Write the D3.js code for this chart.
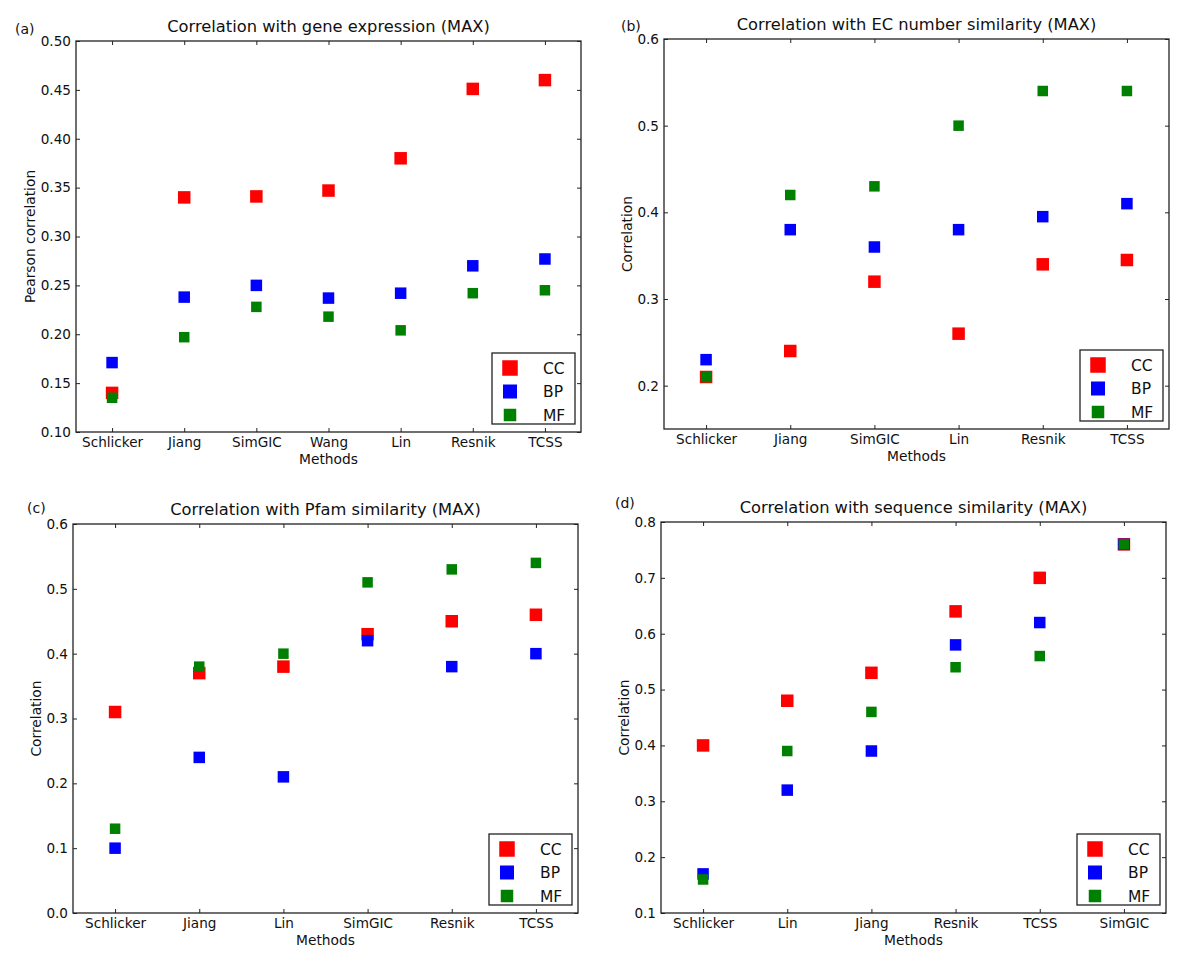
<!DOCTYPE html>
<html>
<head>
<meta charset="utf-8">
<script src="https://cdn.jsdelivr.net/npm/d3@7"></script>
<style>
  html, body { margin: 0; padding: 0; background: #fff; }
  svg { display: block; font-family: "DejaVu Sans", sans-serif; }
</style>
</head>
<body>
<svg id="chart" width="1200" height="959"></svg>
<script>
// ---------------- DATA ----------------
const seriesNames = ["CC", "BP", "MF"];

// (a) Correlation with gene expression (MAX)
const catsA = ["Schlicker", "Jiang", "SimGIC", "Wang", "Lin", "Resnik", "TCSS"];
const ccA = [0.140, 0.340, 0.341, 0.347, 0.380, 0.451, 0.460];
const bpA = [0.171, 0.238, 0.250, 0.237, 0.242, 0.270, 0.277];
const mfA = [0.135, 0.197, 0.228, 0.218, 0.204, 0.242, 0.245];
const ticksA = [0.10, 0.15, 0.20, 0.25, 0.30, 0.35, 0.40, 0.45, 0.50];

// (b) Correlation with EC number similarity (MAX)
const catsB = ["Schlicker", "Jiang", "SimGIC", "Lin", "Resnik", "TCSS"];
const ccB = [0.21, 0.24, 0.32, 0.26, 0.34, 0.345];
const bpB = [0.23, 0.38, 0.36, 0.38, 0.395, 0.41];
const mfB = [0.21, 0.42, 0.43, 0.50, 0.54, 0.54];
const ticksB = [0.2, 0.3, 0.4, 0.5, 0.6];

// (c) Correlation with Pfam similarity (MAX)
const catsC = ["Schlicker", "Jiang", "Lin", "SimGIC", "Resnik", "TCSS"];
const ccC = [0.31, 0.37, 0.38, 0.43, 0.45, 0.46];
const bpC = [0.10, 0.24, 0.21, 0.42, 0.38, 0.40];
const mfC = [0.13, 0.38, 0.40, 0.51, 0.53, 0.54];
const ticksC = [0.0, 0.1, 0.2, 0.3, 0.4, 0.5, 0.6];

// (d) Correlation with sequence similarity (MAX)
const catsD = ["Schlicker", "Lin", "Jiang", "Resnik", "TCSS", "SimGIC"];
const ccD = [0.40, 0.48, 0.53, 0.64, 0.70, 0.76];
const bpD = [0.17, 0.32, 0.39, 0.58, 0.62, 0.76];
const mfD = [0.16, 0.39, 0.46, 0.54, 0.56, 0.76];
const ticksD = [0.1, 0.2, 0.3, 0.4, 0.5, 0.6, 0.7, 0.8];

// ---------------- LAYOUT / STYLE ----------------
const colors = { CC: "#ff0000", BP: "#0000ff", MF: "#008000" };
const markerSize = { CC: 12.5, BP: 11.5, MF: 10.5 };
const legendMarkerSize = { CC: 15.5, BP: 14, MF: 12.5 };

const panels = [
  { tag: "(a)", title: "Correlation with gene expression (MAX)", ylabel: "Pearson correlation",
    cats: catsA, values: [ccA, bpA, mfA], ticks: ticksA, domain: [0.10, 0.50], fmt: ".2f",
    left: 76, top: 41, width: 505, height: 391, tagX: 15, tagY: 34 },
  { tag: "(b)", title: "Correlation with EC number similarity (MAX)", ylabel: "Correlation",
    cats: catsB, values: [ccB, bpB, mfB], ticks: ticksB, domain: [0.15, 0.6], fmt: ".1f",
    left: 664, top: 39, width: 505, height: 390, tagX: 621, tagY: 31 },
  { tag: "(c)", title: "Correlation with Pfam similarity (MAX)", ylabel: "Correlation",
    cats: catsC, values: [ccC, bpC, mfC], ticks: ticksC, domain: [0.0, 0.6], fmt: ".1f",
    left: 73, top: 524, width: 505, height: 389, tagX: 27, tagY: 513 },
  { tag: "(d)", title: "Correlation with sequence similarity (MAX)", ylabel: "Correlation",
    cats: catsD, values: [ccD, bpD, mfD], ticks: ticksD, domain: [0.1, 0.8], fmt: ".1f",
    left: 661, top: 522, width: 505, height: 391, tagX: 615, tagY: 508 }
];

const svg = d3.select("#chart");
const tickLen = 4;

panels.forEach(p => {
  const g = svg.append("g").attr("transform", `translate(${p.left},${p.top})`);
  const x = d3.scalePoint().domain(p.cats).range([0, p.width]).padding(0.5);
  const y = d3.scaleLinear().domain(p.domain).range([p.height, 0]);
  const f = d3.format(p.fmt);

  // axes (inward ticks on all four sides)
  const xAxis = g.append("g").attr("transform", `translate(0,${p.height})`)
    .call(d3.axisBottom(x).tickSizeInner(-tickLen).tickSizeOuter(0).tickPadding(5));
  const xTop = g.append("g")
    .call(d3.axisTop(x).tickSizeInner(-tickLen).tickSizeOuter(0).tickFormat(""));
  const yAxis = g.append("g")
    .call(d3.axisLeft(y).tickValues(p.ticks).tickFormat(f).tickSizeInner(-tickLen).tickSizeOuter(0).tickPadding(5));
  const yRight = g.append("g").attr("transform", `translate(${p.width},0)`)
    .call(d3.axisRight(y).tickValues(p.ticks).tickFormat("").tickSizeInner(-tickLen).tickSizeOuter(0));

  [xAxis, xTop, yAxis, yRight].forEach(a => {
    a.select(".domain").remove();
    a.selectAll("line").attr("stroke", "#222").attr("stroke-width", 1);
    a.selectAll("text").attr("font-size", 13.6).attr("fill", "#111")
      .attr("font-family", "DejaVu Sans, sans-serif");
  });

  // markers: CC, then BP, then MF on top
  seriesNames.forEach((s, i) => {
    const sz = markerSize[s];
    g.append("g").selectAll("rect")
      .data(p.values[i].map((v, j) => ({ c: p.cats[j], v })))
      .join("rect")
      .attr("x", d => x(d.c) - sz / 2)
      .attr("y", d => y(d.v) - sz / 2)
      .attr("width", sz).attr("height", sz)
      .attr("fill", colors[s]);
  });

  // frame
  g.append("rect").attr("x", 0).attr("y", 0).attr("width", p.width).attr("height", p.height)
    .attr("fill", "none").attr("stroke", "#222").attr("stroke-width", 1.3);

  // title
  g.append("text").attr("x", p.width / 2).attr("y", -9)
    .attr("text-anchor", "middle").attr("font-size", 16.3).attr("fill", "#111")
    .text(p.title);

  // x label
  g.append("text").attr("x", p.width / 2).attr("y", p.height + 32)
    .attr("text-anchor", "middle").attr("font-size", 13.8).attr("fill", "#111")
    .text("Methods");

  // y label, placed left of tick labels
  let minX = 0;
  yAxis.selectAll("text").each(function () {
    const b = this.getBBox();
    minX = Math.min(minX, b.x - 5);
  });
  g.append("text")
    .attr("transform", `translate(${minX - 5.5},${p.height / 2}) rotate(-90)`)
    .attr("text-anchor", "middle").attr("dy", "0.35em")
    .attr("font-size", 13.8).attr("fill", "#111")
    .text(p.ylabel);

  // panel tag
  svg.append("text").attr("x", p.tagX).attr("y", p.tagY)
    .attr("font-size", 14).attr("fill", "#111").text(p.tag);

  // legend
  const lw = 83, lh = 71;
  const lx = p.width - 6 - lw, ly = p.height - 8 - lh;
  const lg = g.append("g").attr("transform", `translate(${lx},${ly})`);
  lg.append("rect").attr("width", lw).attr("height", lh)
    .attr("fill", "#fff").attr("stroke", "#222").attr("stroke-width", 1.3);
  const rowY = [15, 38.5, 62];
  seriesNames.forEach((s, i) => {
    const sz = legendMarkerSize[s];
    lg.append("rect").attr("x", 18 - sz / 2).attr("y", rowY[i] - sz / 2)
      .attr("width", sz).attr("height", sz).attr("fill", colors[s]);
    lg.append("text").attr("x", 51).attr("y", rowY[i]).attr("dy", "0.36em")
      .attr("font-size", 15.5).attr("fill", "#111").text(s);
  });
});
</script>
</body>
</html>
